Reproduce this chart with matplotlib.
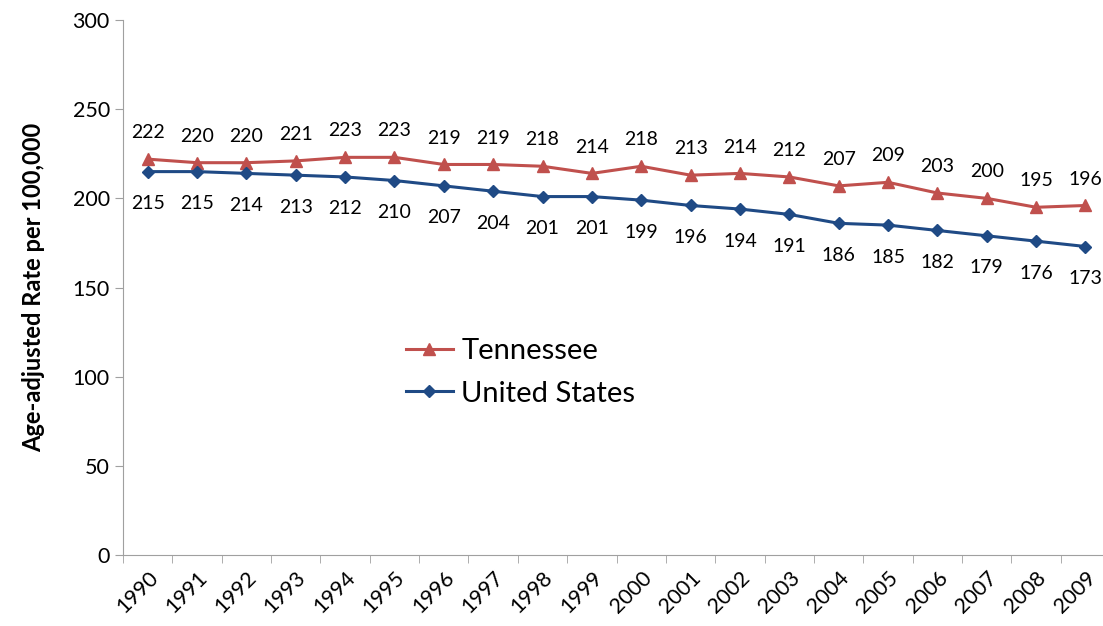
import numpy as np
import matplotlib
matplotlib.use("Agg")
import matplotlib.pyplot as plt

years = [str(y) for y in range(1990, 2010)]
tennessee = [222, 220, 220, 221, 223, 223, 219, 219, 218, 214,
             218, 213, 214, 212, 207, 209, 203, 200, 195, 196]
united_states = [215, 215, 214, 213, 212, 210, 207, 204, 201, 201,
                 199, 196, 194, 191, 186, 185, 182, 179, 176, 173]

plt.rcParams['font.family'] = ['Lato', 'DejaVu Sans']

fig = plt.figure(figsize=(11.03, 6.26), dpi=100)
ax = fig.add_axes([0.1115, 0.1134, 0.895, 0.8546])

x = np.arange(len(years))
red = '#C0504D'
blue = '#1F4A85'

ax.plot(x, tennessee, color=red, lw=2.2, marker='^', ms=8, label='Tennessee')
ax.plot(x, united_states, color=blue, lw=2.2, marker='D', ms=6, label='United States')

for i in range(len(years)):
    ax.annotate(str(tennessee[i]), (x[i], tennessee[i]), xytext=(0, 19),
                textcoords='offset points', ha='center', va='center', fontsize=14)
    ax.annotate(str(united_states[i]), (x[i], united_states[i]), xytext=(0, -23),
                textcoords='offset points', ha='center', va='center', fontsize=14)

ax.set_xlim(-0.5, len(years) - 0.5)
ax.set_ylim(0, 300)
ax.set_yticks(range(0, 301, 50))
ax.set_xticks(x)
ax.set_xticklabels(years, rotation=45, ha='right', rotation_mode='anchor', fontsize=15.5)
ax.tick_params(axis='x', length=0, pad=9)
ax.set_xticks(np.arange(-0.5, len(years), 1.0), minor=True)
ax.tick_params(axis='x', which='minor', length=6, color='#A0A0A0', direction='out')
ax.tick_params(axis='y', length=6, color='#A0A0A0', labelsize=15.5, direction='out')

for s in ['top', 'right']:
    ax.spines[s].set_visible(False)
for s in ['left', 'bottom']:
    ax.spines[s].set_color('#A0A0A0')

ax.set_ylabel('Age-adjusted Rate per 100,000', fontsize=17, fontweight='bold', labelpad=20)

ax.legend(loc='upper left', bbox_to_anchor=(0.272, 0.432), frameon=False, fontsize=21,
          handlelength=1.6, handletextpad=0.3, labelspacing=0.55, borderpad=0)

fig.savefig('out.png', dpi=100)
